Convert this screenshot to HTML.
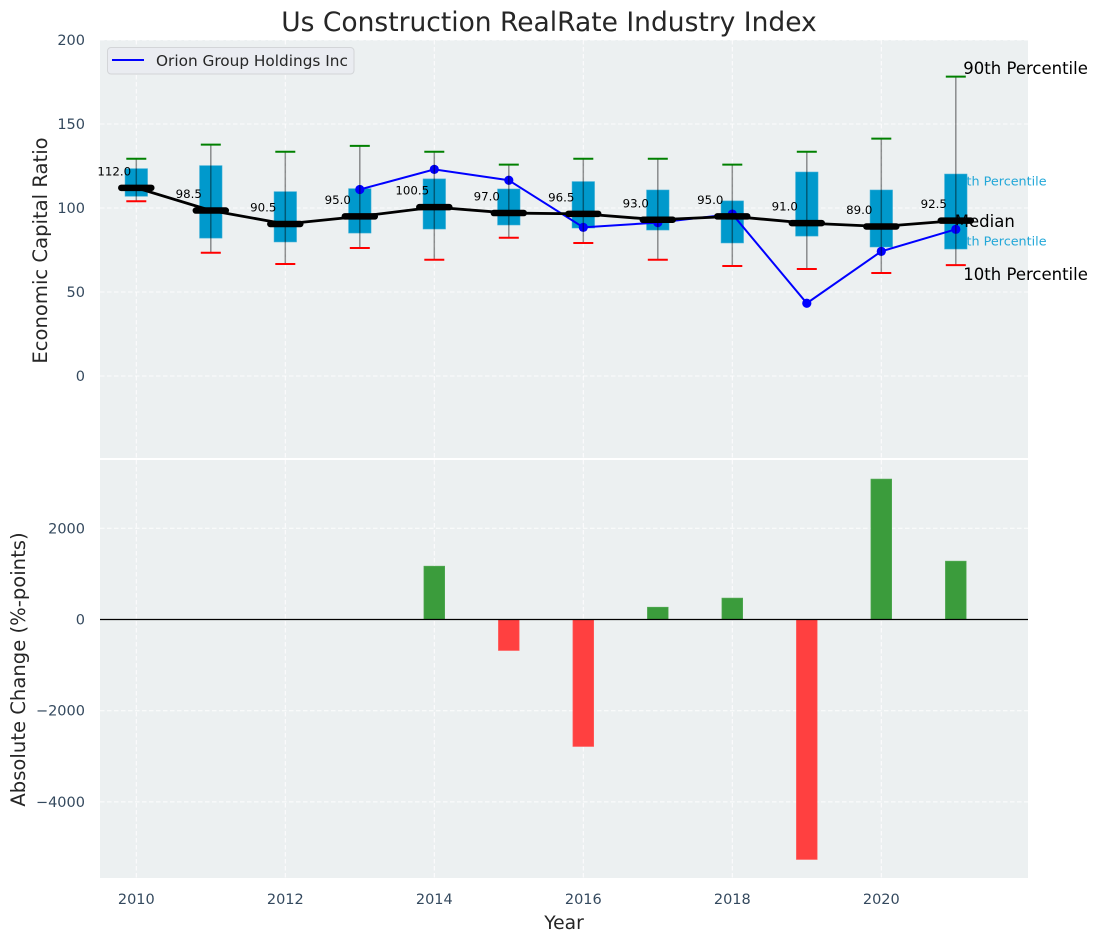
<!DOCTYPE html>
<html lang="en">
<head>
<meta charset="utf-8">
<title>Us Construction RealRate Industry Index</title>
<style>
html,body{margin:0;padding:0;background:#fff;}
svg{display:block;font-family:"DejaVu Sans","Liberation Sans",sans-serif;}
</style>
</head>
<body>
<svg id="chart" xmlns="http://www.w3.org/2000/svg" width="1098" height="942" viewBox="0 0 1098 942">
  <rect x="0" y="0" width="1098" height="942" fill="#ffffff"/>
  <rect x="100" y="40" width="928" height="418" fill="#ecf0f1"/>
  <rect x="100" y="460" width="928" height="418" fill="#ecf0f1"/>
  <g id="grid"></g>
  <g id="ticks"></g>
  <g id="bars"></g>
  <line x1="100" x2="1028" y1="619.5" y2="619.5" stroke="#000000" stroke-width="1.3"/>
  <g id="marks"></g>
  <text x="549" y="31" text-anchor="middle" font-size="26.5" fill="#262626">Us Construction RealRate Industry Index</text>
  <text transform="translate(47,250.5) rotate(-90)" text-anchor="middle" font-size="19.6" fill="#262626">Economic Capital Ratio</text>
  <text transform="translate(25,669.5) rotate(-90)" text-anchor="middle" font-size="19.6" fill="#262626">Absolute Change (%-points)</text>
  <text x="564" y="929" text-anchor="middle" font-size="18.7" fill="#262626">Year</text>
  <g>
    <rect x="107.5" y="47.5" width="246.5" height="26.5" rx="3.5" fill="#eaecf1" stroke="#d3d5d8" stroke-width="1"/>
    <line x1="112" x2="144" y1="60" y2="60" stroke="#0000ff" stroke-width="2"/>
    <text x="156" y="66" font-size="15.3" fill="#262626">Orion Group Holdings Inc</text>
  </g>
</svg>
<script>
const years = [2010, 2011, 2012, 2013, 2014, 2015, 2016, 2017, 2018, 2019, 2020, 2021];
const p90 = [129.3, 137.7, 133.5, 137, 133.5, 125.8, 129.3, 129.3, 125.8, 133.5, 141.3, 178.2];
const p75 = [123.4, 125.2, 109.7, 111.5, 117.3, 111.3, 115.7, 110.7, 104.2, 121.4, 110.7, 120.2];
const medians = [112, 98.5, 90.5, 95, 100.5, 97, 96.5, 93, 95, 91, 89, 92.5];
const p25 = [107, 82.1, 79.8, 85.1, 87.5, 89.9, 88.1, 86.9, 79.2, 83.3, 76.8, 75.6];
const p10 = [104, 73.4, 66.7, 76.2, 69.2, 82.3, 79.2, 69.2, 65.5, 63.7, 61.3, 66];
const orion = [null, null, null, 111, 123, 116.5, 88.5, 91.3, 96.4, 43.3, 74.2, 87.3];
const changes = [null, null, null, null, 1170, -680, -2785, 270, 470, -5263, 3080, 1280];
const xTicks = [2010, 2012, 2014, 2016, 2018, 2020];
const topYTicks = [0, 50, 100, 150, 200];
const bottomYTicks = [-4000, -2000, 0, 2000];

const NS = 'http://www.w3.org/2000/svg';
const xScale = v => 136.3 + (v - 2010) * 74.5;
const yTop = v => 376 - v * 1.68;
const yBottom = v => 619.5 - v * 0.0456;

function mk(parent, tag, attrs, content) {
  const el = document.createElementNS(NS, tag);
  for (const k in attrs) el.setAttribute(k, attrs[k]);
  if (content !== undefined) el.textContent = content;
  parent.appendChild(el);
  return el;
}

const gridG = document.getElementById('grid');
const ticksG = document.getElementById('ticks');
const barsG = document.getElementById('bars');
const marksG = document.getElementById('marks');
const gridStyle = {stroke: '#ffffff', 'stroke-width': 1, 'stroke-dasharray': '4.5 2.5', opacity: 0.9};
const tickColor = '#34495e';

xTicks.forEach(t => {
  [[40, 458], [460, 878]].forEach(r => {
    const g = mk(gridG, 'line', Object.assign({x1: xScale(t), x2: xScale(t), y1: r[0], y2: r[1]}, gridStyle));
    
    
  });
  const l = mk(ticksG, 'text', {x: xScale(t), y: 904, 'text-anchor': 'middle', 'font-size': 14.5, fill: tickColor}, String(t));
  
  
});

topYTicks.forEach(t => {
  const g = mk(gridG, 'line', Object.assign({x1: 100, x2: 1028, y1: yTop(t), y2: yTop(t)}, gridStyle));
  
  
  const l = mk(ticksG, 'text', {x: 85, y: yTop(t) + 5, 'text-anchor': 'end', 'font-size': 14.5, fill: tickColor}, String(t));
  
  
});

bottomYTicks.forEach(t => {
  const g = mk(gridG, 'line', Object.assign({x1: 100, x2: 1028, y1: yBottom(t), y2: yBottom(t)}, gridStyle));
  
  
  const l = mk(ticksG, 'text', {x: 85, y: yBottom(t) + 5, 'text-anchor': 'end', 'font-size': 14.5, fill: tickColor}, String(t).replace('-', '\u2212'));
  
  
});

/* change bars */
years.forEach((yr, i) => {
  const v = changes[i];
  if (v === null) return;
  const y0 = yBottom(0), y1 = yBottom(v);
  const bar = mk(barsG, 'rect', {
    x: xScale(yr) - 10.4, width: 20.8,
    y: Math.min(y0, y1), height: Math.abs(y1 - y0),
    fill: v >= 0 ? '#3b9c3c' : '#ff4040',
    stroke: v >= 0 ? '#55aa56' : '#ff6060', 'stroke-width': 0.6
  });
  
  
});

const last = years.length - 1;
const xLast = xScale(years[last]);

/* inner percentile labels sit underneath the boxes */
const t75 = mk(marksG, 'text', {x: xLast - 5.5, y: yTop(p75[last]) + 11.5, 'font-size': 12.75, fill: '#22a7d8'}, '75th Percentile');


const t25 = mk(marksG, 'text', {x: xLast - 5.5, y: yTop(p25[last]) - 3.5, 'font-size': 12.75, fill: '#22a7d8'}, '25th Percentile');



/* boxes */
years.forEach((yr, i) => {
  const box = mk(marksG, 'rect', {
    x: xScale(yr) - 11.2, width: 22.4,
    y: yTop(p75[i]), height: yTop(p25[i]) - yTop(p75[i]),
    fill: '#0099cc', stroke: '#33aad4', 'stroke-width': 0.6
  });
  
  
});

/* outer percentile labels */
const t90 = mk(marksG, 'text', {x: xLast + 7.5, y: yTop(p90[last]) - 2.5, 'font-size': 16.5, fill: '#000000'}, '90th Percentile');


const t10 = mk(marksG, 'text', {x: xLast + 7.5, y: yTop(p10[last]) + 15, 'font-size': 16.5, fill: '#000000'}, '10th Percentile');


const tm = mk(marksG, 'text', {x: xLast - 1, y: yTop(medians[last]) + 6.5, 'font-size': 16.5, fill: '#000000'}, 'Median');



/* company line */
const orionPts = [];
years.forEach((yr, i) => {
  if (orion[i] !== null) orionPts.push(xScale(yr) + ',' + yTop(orion[i]));
});
const oLine = mk(marksG, 'polyline', {points: orionPts.join(' '), fill: 'none', stroke: '#0000ff', 'stroke-width': 2});


years.forEach((yr, i) => {
  if (orion[i] === null) return;
  const pt = mk(marksG, 'circle', {cx: xScale(yr), cy: yTop(orion[i]), r: 4.6, fill: '#0000ff'});
  
  
});

/* whiskers and caps */
years.forEach((yr, i) => {
  const x = xScale(yr);
  const w = mk(marksG, 'line', {x1: x, x2: x, y1: yTop(p90[i]), y2: yTop(p10[i]), stroke: '#000000', 'stroke-opacity': 0.42, 'stroke-width': 1.5});
  
  
  const c90 = mk(marksG, 'line', {x1: x - 10, x2: x + 10, y1: yTop(p90[i]), y2: yTop(p90[i]), stroke: '#008000', 'stroke-width': 2});
  
  
  const c10 = mk(marksG, 'line', {x1: x - 10, x2: x + 10, y1: yTop(p10[i]), y2: yTop(p10[i]), stroke: '#ff0000', 'stroke-width': 2});
  
  
});

/* median line, markers and printed values */
const medLine = mk(marksG, 'polyline', {
  points: years.map((yr, i) => xScale(yr) + ',' + yTop(medians[i])).join(' '),
  fill: 'none', stroke: '#000000', 'stroke-width': 2.8
});


years.forEach((yr, i) => {
  const x = xScale(yr), y = yTop(medians[i]);
  const m = mk(marksG, 'line', {x1: x - 15, x2: x + 15, y1: y, y2: y, stroke: '#000000', 'stroke-width': 6.5, 'stroke-linecap': 'round'});
  
  
  const v = mk(marksG, 'text', {x: x - 22, y: y - 12.5, 'text-anchor': 'middle', 'font-size': 11.8, fill: '#000000'}, medians[i].toFixed(1));
  
  
});
</script>
</body>
</html>
